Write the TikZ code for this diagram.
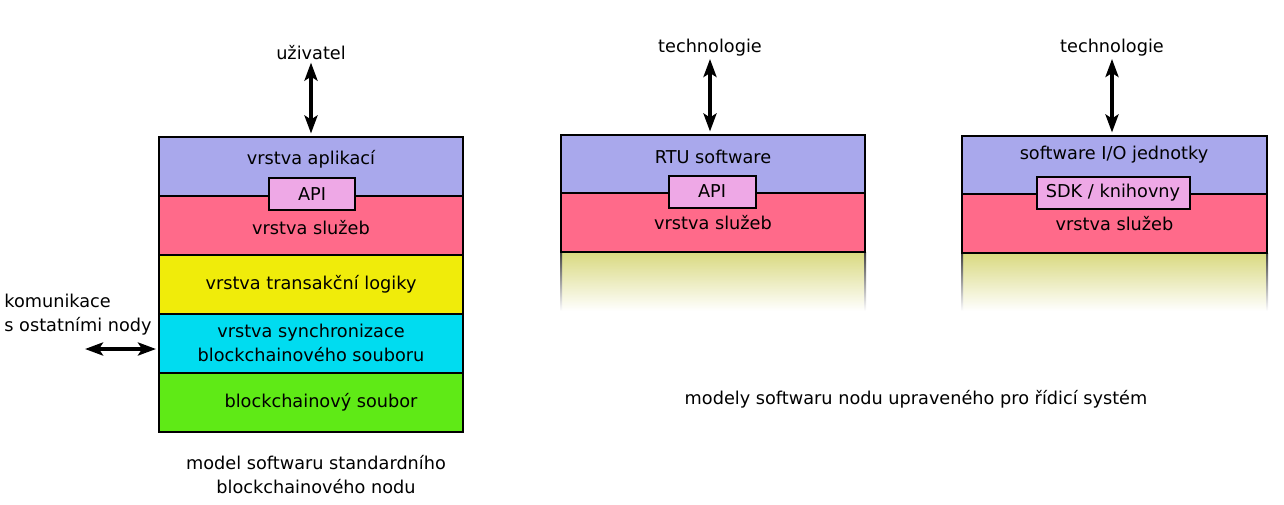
\documentclass[tikz,border=0pt]{standalone}
\usepackage{fontspec}
\setmainfont{DejaVu Sans}
\usetikzlibrary{arrows.meta}

\definecolor{aplcol}{RGB}{169,168,236}
\definecolor{sluzcol}{RGB}{255,106,138}
\definecolor{logcol}{RGB}{240,236,10}
\definecolor{synccol}{RGB}{0,220,240}
\definecolor{soubcol}{RGB}{95,234,22}
\definecolor{apicol}{RGB}{238,168,230}
\definecolor{fadecol}{RGB}{217,217,128}

\tikzset{
  layer/.style={draw=black, line width=1pt, minimum width=152pt, minimum height=29.5pt, inner sep=0pt, align=center},
  ifbox/.style={draw=black, line width=1pt, fill=apicol, minimum height=16pt, inner sep=0pt},
  biarrow/.style={line width=1.8pt, {Stealth[length=9pt,width=6.5pt,inset=2pt]}-{Stealth[length=9pt,width=6.5pt,inset=2pt]}},
  txt/.style={inner sep=1pt, align=center}
}

\begin{document}
\begin{tikzpicture}[x=0.5pt, y=-0.5pt, font=\fontsize{8.85}{12}\selectfont]
  \useasboundingbox (0,0) rectangle (1284,504);

  % standardni nod
  \begin{scope}
    \node[layer, fill=aplcol] (apl) at (311,166) {};
    \node[layer, fill=sluzcol, text depth=0pt] (sluz) at (311,225) {\raisebox{-2pt}{vrstva služeb}};
    \node[layer, fill=logcol] (logika) at (311,284) {vrstva transakční logiky};
    \node[layer, fill=synccol] (sync) at (311,343) {vrstva synchronizace\\blockchainového souboru};
    \node[layer, fill=soubcol] (soubor) at (311,402) {\hspace{10pt}blockchainový soubor};
    \node[txt] (apltxt) at (311,159) {vrstva aplikací};
    \node[ifbox, minimum width=43pt] (api) at (312,194) {API};
  \end{scope}

  \node[txt] (uziv) at (311,53) {uživatel};
  \draw[biarrow, shorten >=1pt] (uziv) -- (apl.north -| uziv);

  \node[txt, anchor=west, align=left] (komun) at (2,315) {komunikace\\s ostatními nody};
  \coordinate (komend) at (85,349);
  \draw[biarrow, shorten >=1pt] (komend) -- (sync.west |- komend);

  \node[txt] (cap1) at (316,475) {model softwaru standardního\\blockchainového nodu};

  % RTU
  \begin{scope}
    \shade[top color=fadecol, bottom color=white] (561,252) rectangle (865,311);
    \shade[top color=black!75, bottom color=white] (560,252) rectangle (562,311);
    \shade[top color=black!75, bottom color=white] (864,252) rectangle (866,311);
    \node[layer, fill=aplcol] (rtu) at (713,164) {};
    \node[layer, fill=sluzcol] (sluz2) at (713,222.5) {\raisebox{-3pt}{vrstva služeb}};
    \node[txt] (rtutxt) at (713,157) {RTU software};
    \node[ifbox, minimum width=43.5pt] (api2) at (712,191.5) {API};
  \end{scope}

  \node[txt] (tech1) at (710,48) {technologie};
  \draw[biarrow, shorten >=1pt] (tech1) -- (rtu.north -| tech1);

  % I/O jednotka
  \begin{scope}
    \shade[top color=fadecol, bottom color=white] (962,253) rectangle (1267,311);
    \shade[top color=black!75, bottom color=white] (961,253) rectangle (963,311);
    \shade[top color=black!75, bottom color=white] (1266,253) rectangle (1268,311);
    \node[layer, fill=aplcol, minimum width=152.5pt] (io) at (1114.5,165) {};
    \node[layer, fill=sluzcol, minimum width=152.5pt] (sluz3) at (1114.5,223.5) {\raisebox{-3pt}{vrstva služeb}};
    \node[txt] (iotxt) at (1114,155) {software I/O jednotky};
    \node[ifbox, minimum width=76.5pt] (sdk) at (1113,192.5) {SDK / knihovny};
  \end{scope}

  \node[txt] (tech2) at (1112,48) {technologie};
  \draw[biarrow, shorten >=1pt] (tech2) -- (io.north -| tech2);

  \node[txt] (cap2) at (916,399) {modely softwaru nodu upraveného pro řídicí systém};
\end{tikzpicture}
\end{document}
